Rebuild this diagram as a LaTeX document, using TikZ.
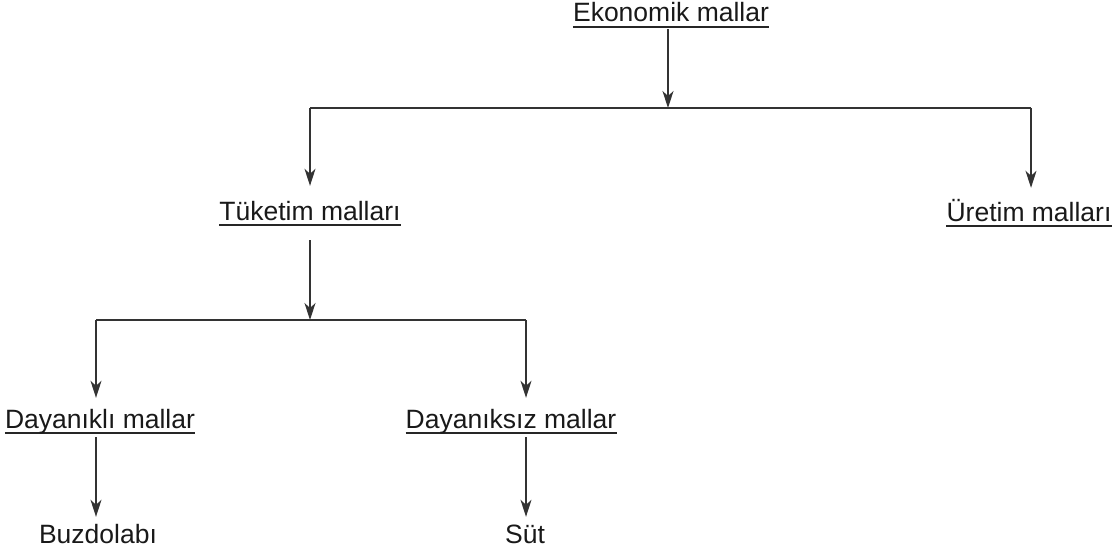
\documentclass[tikz,border=0pt]{standalone}
\usepackage{fontspec}
\setmainfont{Liberation Sans}
\usetikzlibrary{arrows.meta}
\tikzset{
  lbl/.style={inner sep=0pt, anchor=base, font=\fontsize{26.5}{30}\selectfont,
    text height=19pt, text depth=5pt, text=black!90},
  ulbl/.style={lbl, append after command={
      \pgfextra{\draw[line width=2pt, black!85] (\tikzlastnode.south west) -- (\tikzlastnode.south east);}}},
  conn/.style={line width=1.3pt, draw=black!80},
  arr/.style={conn, -{Stealth[length=17pt,width=11pt,inset=5pt]}},
}
\begin{document}
\begin{tikzpicture}[x=1pt,y=-1pt]
\useasboundingbox (0,0) rectangle (1115,556);
% nodes
\node[ulbl] (eko) at (671,22) {Ekonomik mallar};
\node[ulbl] (tuk) at (310,220) {Tüketim malları};
\node[ulbl] (ure) at (1029,221) {Üretim malları};
\node[ulbl] (dyk) at (100,428) {Dayanıklı mallar};
\node[ulbl] (dyz) at (511,428) {Dayanıksız mallar};
\node[lbl] (buz) at (98,543) {Buzdolabı};
\node[lbl] (sut) at (525,543) {Süt};
% junctions
\coordinate (j1) at (668,108);
\coordinate (j1l) at (310,108);
\coordinate (j1r) at (1031,108);
\coordinate (j2) at (310,320);
\coordinate (j2l) at (96,320);
\coordinate (j2r) at (526,320);
% connectors
\draw[arr, shorten <=2pt] (eko.south -| j1) -- (j1);
\draw[conn] (j1l) -- (j1r);
\draw[arr, shorten >=15pt] (j1l) -- (tuk.north -| j1l);
\draw[arr, shorten >=14pt] (j1r) -- (ure.north -| j1r);
\draw[arr, shorten <=15pt] (tuk.south -| j2) -- (j2);
\draw[conn] (j2l) -- (j2r);
\draw[arr, shorten >=11pt] (j2l) -- (dyk.north -| j2l);
\draw[arr, shorten >=11pt] (j2r) -- (dyz.north -| j2r);
\draw[arr, shorten <=4pt, shorten >=7pt] (dyk.south -| j2l) -- (buz.north -| j2l);
\draw[arr, shorten <=4pt, shorten >=7pt] (dyz.south -| j2r) -- (sut.north -| j2r);
\end{tikzpicture}
\end{document}
